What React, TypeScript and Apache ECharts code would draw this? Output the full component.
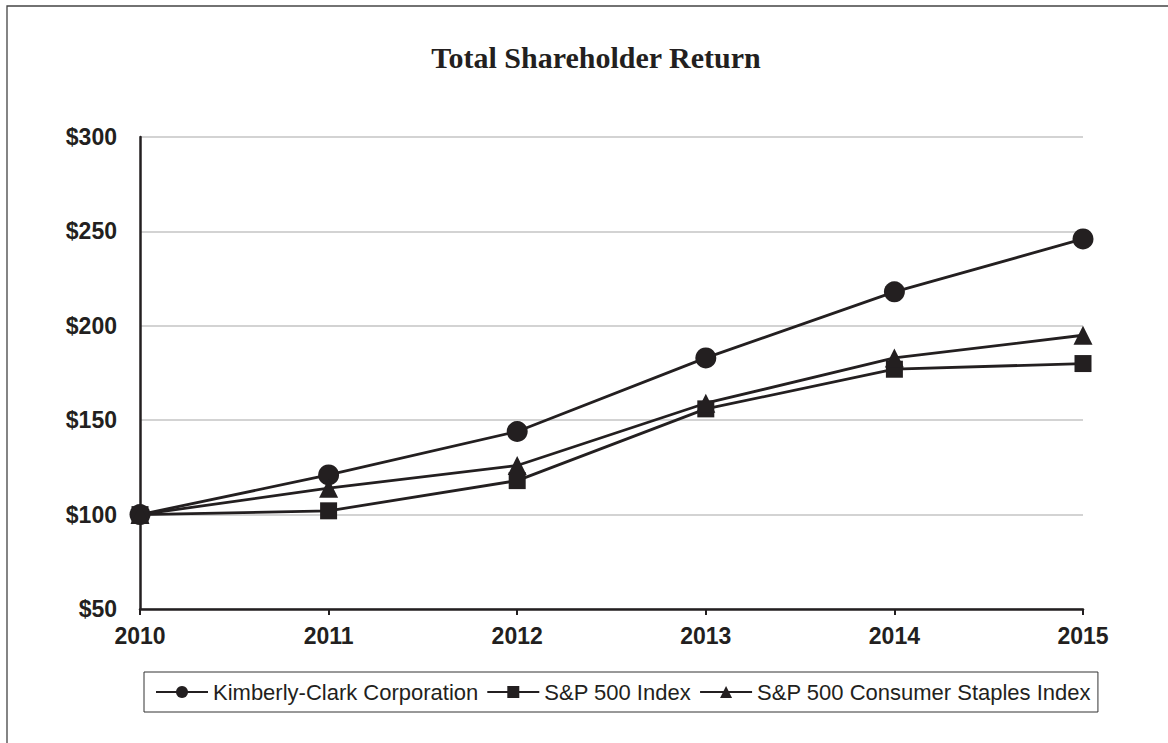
import React, { useEffect, useRef } from "react";
import * as echarts from "echarts";

const years = ["2010", "2011", "2012", "2013", "2014", "2015"];
const kimberlyClark = [100, 121, 144, 183, 218, 246];
const sp500 = [100, 102, 118, 156, 177, 180];
const staples = [100, 114, 126, 159, 183, 195];
const seriesNames = [
  "Kimberly-Clark Corporation",
  "S&P 500 Index",
  "S&P 500 Consumer Staples Index",
];
const titleText = "Total Shareholder Return";

const INK = "#231f20";

export default function App() {
  const ref = useRef<HTMLDivElement>(null);
  useEffect(() => {
    document.body.style.margin = "0";
    const chart = echarts.init(ref.current!, null, { renderer: "svg" });
    const mk = (name: string, data: number[], symbol: string, size: number) => ({
      name,
      type: "line",
      data,
      symbol,
      symbolSize: size,
      showSymbol: true,
      lineStyle: { color: INK, width: 2.8 },
      itemStyle: { color: INK, borderWidth: 0 },
      emphasis: { disabled: true },
    });
    chart.setOption({
      animation: false,
      backgroundColor: "#ffffff",
      graphic: [
        {
          type: "rect",
          shape: { x: 7, y: 6, width: 1300, height: 900 },
          style: { fill: "none", stroke: "#444444", lineWidth: 1.3 },
          silent: true,
        },
        {
          type: "text",
          x: 596,
          y: 57,
          style: {
            text: titleText,
            font: "bold 30px 'Liberation Serif', 'Times New Roman', serif",
            fill: INK,
            textAlign: "center",
            textVerticalAlign: "middle",
          },
        },
      ],
      legend: {
        show: true,
        left: 144,
        top: 672,
        orient: "horizontal",
        data: seriesNames,
        itemWidth: 52,
        itemHeight: 15,
        itemGap: 8,
        borderColor: "#333333",
        borderWidth: 1,
        padding: [9, 7, 9, 11],
        textStyle: {
          fontFamily: "'Liberation Sans', Arial, sans-serif",
          fontSize: 22,
          color: INK,
        },
        selectedMode: false,
      },
      grid: { left: 140, right: 85, top: 137, bottom: 134, containLabel: false },
      xAxis: {
        type: "category",
        data: years,
        boundaryGap: false,
        axisLine: { show: true, lineStyle: { color: INK, width: 2.5 } },
        axisTick: { show: true, length: 6, lineStyle: { color: INK, width: 2 } },
        axisLabel: {
          margin: 15,
          fontFamily: "'Liberation Sans', Arial, sans-serif",
          fontWeight: "bold",
          fontSize: 23,
          color: INK,
        },
        splitLine: { show: false },
      },
      yAxis: {
        type: "value",
        min: 50,
        max: 300,
        interval: 50,
        axisLine: { show: true, lineStyle: { color: INK, width: 2.5 } },
        axisTick: { show: false },
        axisLabel: {
          margin: 23,
          formatter: (v: number) => "$" + v,
          fontFamily: "'Liberation Sans', Arial, sans-serif",
          fontWeight: "bold",
          fontSize: 23,
          color: INK,
        },
        splitLine: { show: true, lineStyle: { color: "#c4c4c4", width: 1.5 } },
      },
      series: [
        mk(seriesNames[0], kimberlyClark, "circle", 21),
        mk(seriesNames[1], sp500, "rect", 17),
        mk(seriesNames[2], staples, "triangle", 19),
      ],
    });
    return () => chart.dispose();
  }, []);
  return <div ref={ref} style={{ width: 1168, height: 743 }} />;
}
